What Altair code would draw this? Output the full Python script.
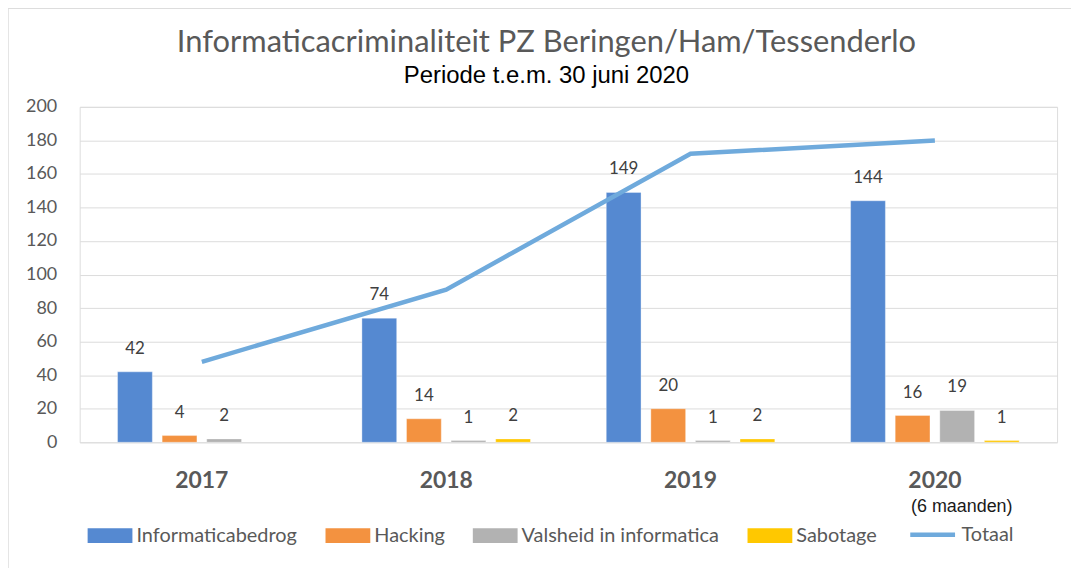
import altair as alt
import pandas as pd

years = ["2017", "2018", "2019", "2020"]
series = ["Informaticabedrog", "Hacking", "Valsheid in informatica", "Sabotage"]
informaticabedrog = [42, 74, 149, 144]
hacking = [4, 14, 20, 16]
valsheid = [2, 1, 1, 19]
sabotage = [None, 2, 2, 1]
totaal = [48, 91, 172, 180]
colors = ["#5589D1", "#F39240", "#B2B2B2", "#FFC800"]
line_color = "#6FAADC"

rows = []
for s, vals in zip(series, [informaticabedrog, hacking, valsheid, sabotage]):
    for y, v in zip(years, vals):
        if v is not None:
            rows.append({"year": y, "series": s, "value": v})
bars_df = pd.DataFrame(rows)
line_df = pd.DataFrame({"year": years, "value": totaal, "name": ["Totaal"] * 4})
note_df = pd.DataFrame({"year": ["2020"], "note": ["(6 maanden)"]})

W, H = 982, 337

x_scale = alt.Scale(domain=years, paddingInner=0.27, paddingOuter=0.135)
xo_scale = alt.Scale(domain=series, paddingInner=0.22, paddingOuter=0.11)
y_scale = alt.Scale(domain=[0, 200], nice=False)

x_axis = alt.Axis(title=None, labelAngle=0, labelFont="Lato", labelFontSize=23,
                  labelFontWeight="bold", labelColor="#595959", labelPadding=27,
                  ticks=False, domain=False)
y_axis = alt.Axis(title=None, values=list(range(0, 201, 20)), labelFont="Lato",
                  labelFontSize=18, labelColor="#595959", labelPadding=23,
                  ticks=False, domain=False, gridColor="#DCDCDC", labelOverlap=False)


def xe():
    return alt.X("year:N", scale=x_scale, sort=years, axis=x_axis)


def ye():
    return alt.Y("value:Q", scale=y_scale, axis=y_axis)


border = alt.Chart(note_df).mark_rect(fill=None, stroke="#DDDDDD", strokeWidth=1.5).encode(
    x=alt.value(-72), x2=alt.value(1200), y=alt.value(-99), y2=alt.value(900)
)

bars = alt.Chart(bars_df).mark_bar(stroke="white", strokeOpacity=0.35, strokeWidth=1).encode(
    x=xe(),
    xOffset=alt.XOffset("series:N", scale=xo_scale, sort=series),
    y=ye(),
    color=alt.Color("series:N", sort=series,
                    scale=alt.Scale(domain=series, range=colors),
                    legend=alt.Legend(title=None, orient="none", legendX=8, legendY=408,
                                      direction="horizontal", columns=4,
                                      symbolType="M-1,-0.33H1V0.33H-1Z", symbolSize=2025,
                                      symbolStrokeWidth=0, labelFont="Lato", labelFontSize=20,
                                      labelColor="#595959", columnPadding=28, labelOffset=4,
                                      padding=0, labelLimit=400)),
)

labels = alt.Chart(bars_df).mark_text(baseline="bottom", dy=-14, font="Lato", fontSize=17,
                                      color="#404040").encode(
    x=xe(),
    xOffset=alt.XOffset("series:N", scale=xo_scale, sort=series),
    y=ye(),
    text="value:Q",
)

line = alt.Chart(line_df).mark_line(strokeWidth=4.5).encode(
    x=xe(),
    y=ye(),
    stroke=alt.Stroke("name:N", scale=alt.Scale(domain=["Totaal"], range=[line_color]),
                      legend=alt.Legend(title=None, orient="none", legendX=832, legendY=405,
                                        symbolType="stroke", symbolSize=2025,
                                        symbolStrokeWidth=4.5, labelFont="Lato",
                                        labelFontSize=20, labelColor="#595959",
                                        labelOffset=4, padding=0)),
)

note = alt.Chart(note_df).mark_text(baseline="middle", dx=27, font="Liberation Sans",
                                    fontSize=18, color="#1a1a1a").encode(
    x=xe(),
    y=alt.value(402),
    text="note:N",
)

chart = alt.layer(border, bars, labels, line, note).properties(
    width=W, height=H,
    title=alt.TitleParams(
        text="Informaticacriminaliteit PZ Beringen/Ham/Tessenderlo",
        subtitle="Periode t.e.m. 30 juni 2020",
        anchor="middle", dx=-22, offset=-82,
        font="Lato", fontSize=31, fontWeight="normal", color="#595959",
        subtitleFont="Liberation Sans", subtitleFontSize=24, subtitleColor="#000000",
        subtitlePadding=5,
    ),
    autosize=alt.AutoSizeParams(type="none"),
    padding={"left": 72, "top": 98, "right": 14, "bottom": 125},
).configure_view(stroke=None).configure(background="white")

chart.save("out.html", embed_options={"renderer": "svg", "actions": False})
